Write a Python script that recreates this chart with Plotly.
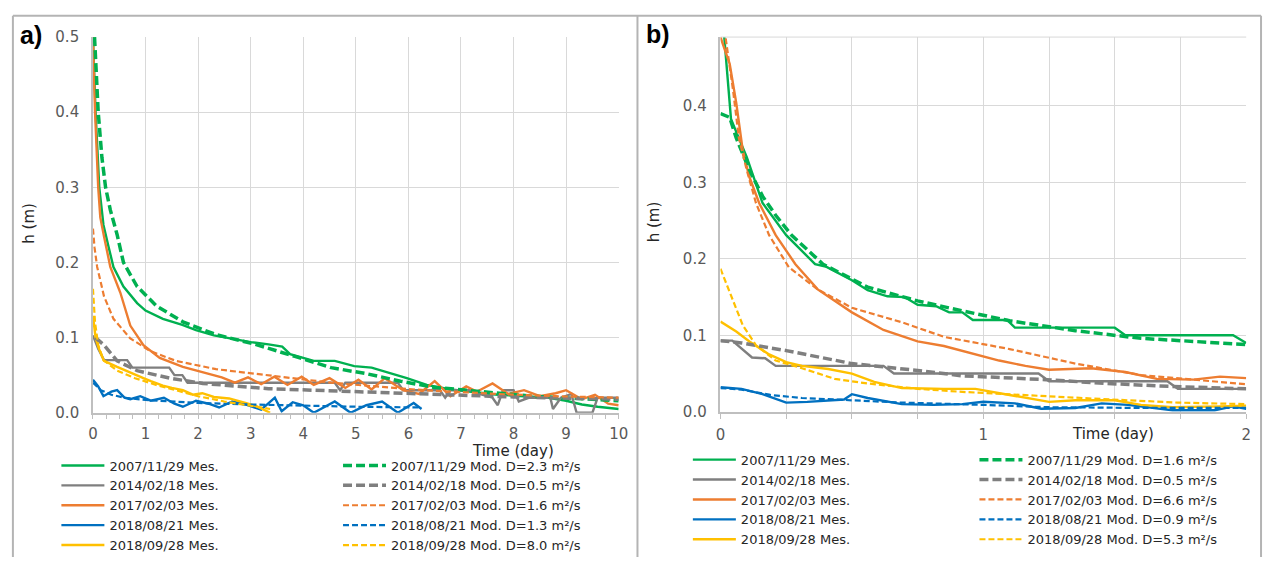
import plotly.graph_objects as go

W, H = 1274, 566

# ---------------- Panel a) data (Time in days, h in m) ----------------
a_green_mes_t = [0, 0.05, 0.12, 0.2, 0.3, 0.39, 0.58, 0.84, 1.0, 1.33, 1.7, 1.96, 2.3, 2.59, 3.0, 3.34, 3.6, 3.75, 4.2, 4.6, 4.97, 5.3, 5.6, 5.97, 6.35, 6.8, 7.2, 7.7, 8.2, 8.67, 9.0, 9.3, 9.6, 10.0]
a_green_mes_h = [0.5, 0.4, 0.3, 0.25, 0.22, 0.194, 0.168, 0.146, 0.136, 0.125, 0.117, 0.11, 0.103, 0.099, 0.094, 0.091, 0.088, 0.078, 0.069, 0.069, 0.062, 0.06, 0.054, 0.046, 0.037, 0.031, 0.028, 0.024, 0.022, 0.02, 0.016, 0.011, 0.008, 0.005]

a_green_mod_t = [0.03, 0.1, 0.17, 0.24, 0.33, 0.46, 0.58, 0.84, 1.21, 1.71, 2.34, 3.09, 3.84, 4.53, 5.2, 5.85, 6.47, 7.1, 7.7, 8.35, 9.2, 10.0]
a_green_mod_h = [0.5, 0.4, 0.34, 0.3, 0.27, 0.237, 0.2, 0.168, 0.142, 0.121, 0.104, 0.091, 0.075, 0.06, 0.052, 0.042, 0.034, 0.03, 0.026, 0.022, 0.019, 0.016]

a_gray_mes_t = [0, 0.1, 0.21, 0.65, 0.75, 1.45, 1.55, 1.7, 1.8, 4.6, 4.7, 4.8, 5.8, 5.9, 6.6, 6.7, 6.8, 7.2, 7.35, 7.6, 7.7, 7.8, 8.0, 8.1, 8.3, 8.7, 8.75, 8.9, 9.1, 9.2, 9.5, 9.6, 10.0]
a_gray_mes_h = [0.103, 0.085, 0.07, 0.07, 0.06, 0.06, 0.05, 0.05, 0.04, 0.04, 0.03, 0.04, 0.04, 0.03, 0.03, 0.02, 0.03, 0.03, 0.025, 0.02, 0.01, 0.03, 0.03, 0.015, 0.02, 0.02, 0.005, 0.02, 0.025, 0.0, 0.0, 0.02, 0.02]

a_gray_mod_t = [0.05, 0.21, 0.46, 0.84, 1.46, 2.09, 3.34, 4.53, 6.0, 8.0, 10.0]
a_gray_mod_h = [0.1, 0.09, 0.069, 0.056, 0.046, 0.039, 0.032, 0.029, 0.025, 0.021, 0.018]

a_orange_mes_t = [0, 0.04, 0.1, 0.14, 0.21, 0.33, 0.52, 0.71, 0.96, 1.27, 1.71, 2.2, 2.45, 2.7, 2.95, 3.2, 3.45, 3.7, 3.97, 4.2, 4.5, 4.8, 5.05, 5.3, 5.55, 5.9, 6.2, 6.5, 6.8, 7.1, 7.3, 7.6, 7.9, 8.2, 8.5, 8.8, 9.0, 9.3, 9.55, 9.8, 10.0]
a_orange_mes_h = [0.5, 0.4, 0.3, 0.26, 0.235, 0.194, 0.16, 0.116, 0.09, 0.073, 0.061, 0.052, 0.047, 0.04, 0.047, 0.038, 0.048, 0.037, 0.048, 0.037, 0.046, 0.033, 0.044, 0.031, 0.046, 0.03, 0.025, 0.042, 0.022, 0.035, 0.028, 0.039, 0.025, 0.03, 0.022, 0.026, 0.03, 0.018, 0.024, 0.012, 0.01]

a_orange_mod_t = [0, 0.03, 0.08, 0.21, 0.39, 0.71, 1.09, 1.58, 2.34, 3.34, 4.53, 5.2, 6.3, 7.7, 8.8, 10.0]
a_orange_mod_h = [0.245, 0.22, 0.194, 0.155, 0.125, 0.099, 0.082, 0.069, 0.058, 0.05, 0.04, 0.036, 0.03, 0.025, 0.022, 0.02]

a_blue_mes_t = [0, 0.1, 0.2, 0.35, 0.46, 0.6, 0.71, 0.9, 1.1, 1.35, 1.55, 1.71, 1.96, 2.2, 2.4, 2.65, 2.9, 3.2, 3.46, 3.59, 3.8, 4.0, 4.2, 4.6, 4.9, 5.2, 5.5, 5.8, 6.1, 6.25]
a_blue_mes_h = [0.044, 0.035, 0.022, 0.028, 0.03, 0.02, 0.018, 0.022, 0.016, 0.02, 0.012, 0.008, 0.016, 0.012, 0.007, 0.015, 0.011, 0.004, 0.02, 0.002, 0.014, 0.01, 0.0, 0.015, 0.0, 0.01, 0.015, 0.0, 0.013, 0.005]

a_blue_mod_t = [0, 0.15, 0.35, 0.6, 1.0, 1.5, 2.0, 3.0, 4.0, 5.0, 6.25]
a_blue_mod_h = [0.04, 0.03, 0.024, 0.02, 0.017, 0.015, 0.013, 0.011, 0.009, 0.008, 0.007]

a_yellow_mes_t = [0, 0.05, 0.11, 0.21, 0.46, 0.71, 0.96, 1.1, 1.33, 1.5, 1.71, 1.9, 2.08, 2.3, 2.59, 2.9, 3.1, 3.37]
a_yellow_mes_h = [0.129, 0.1, 0.086, 0.069, 0.061, 0.053, 0.046, 0.042, 0.036, 0.033, 0.03, 0.024, 0.026, 0.021, 0.019, 0.013, 0.009, 0.0]

a_yellow_mod_t = [0, 0.04, 0.1, 0.2, 0.46, 0.8, 1.2, 1.6, 2.0, 2.5, 3.0, 3.37]
a_yellow_mod_h = [0.165, 0.12, 0.09, 0.07, 0.056, 0.046, 0.037, 0.029, 0.022, 0.015, 0.009, 0.005]

# ---------------- Panel b) data ----------------
b_green_mes_t = [0.012, 0.04, 0.06, 0.1, 0.16, 0.25, 0.36, 0.4, 0.5, 0.56, 0.635, 0.7, 0.75, 0.82, 0.87, 0.92, 0.96, 1.09, 1.12, 1.5, 1.54, 1.95, 2.0]
b_green_mes_h = [0.5, 0.383, 0.366, 0.333, 0.273, 0.231, 0.193, 0.19, 0.172, 0.159, 0.151, 0.15, 0.14, 0.138, 0.13, 0.13, 0.12, 0.12, 0.11, 0.11, 0.1, 0.1, 0.09]

b_green_mod_t = [0, 0.035, 0.06, 0.11, 0.16, 0.21, 0.27, 0.39, 0.56, 0.75, 0.92, 1.1, 1.35, 1.6, 2.0]
b_green_mod_h = [0.39, 0.385, 0.358, 0.316, 0.282, 0.257, 0.231, 0.193, 0.163, 0.145, 0.132, 0.119, 0.106, 0.096, 0.088]

b_gray_mes_t = [0, 0.045, 0.12, 0.17, 0.21, 0.62, 0.66, 1.21, 1.25, 1.7, 1.74, 2.0]
b_gray_mes_h = [0.093, 0.093, 0.071, 0.07, 0.06, 0.06, 0.05, 0.05, 0.04, 0.04, 0.03, 0.03]

b_gray_mod_t = [0, 0.08, 0.25, 0.5, 0.75, 0.92, 1.24, 1.47, 1.72, 2.0]
b_gray_mod_h = [0.093, 0.09, 0.08, 0.063, 0.054, 0.047, 0.042, 0.037, 0.033, 0.03]

b_orange_mes_t = [0, 0.035, 0.06, 0.085, 0.11, 0.147, 0.21, 0.285, 0.37, 0.5, 0.62, 0.75, 0.85, 0.97, 1.06, 1.16, 1.25, 1.41, 1.54, 1.66, 1.8, 1.9, 2.0]
b_orange_mes_h = [0.49, 0.455, 0.404, 0.341, 0.307, 0.273, 0.231, 0.193, 0.16, 0.13, 0.107, 0.092, 0.086, 0.075, 0.067, 0.06, 0.055, 0.057, 0.052, 0.043, 0.042, 0.046, 0.044]

b_orange_mod_t = [0.015, 0.048, 0.07, 0.1, 0.135, 0.185, 0.26, 0.37, 0.5, 0.69, 0.85, 1.1, 1.35, 1.6, 2.0]
b_orange_mod_h = [0.5, 0.42, 0.358, 0.316, 0.273, 0.231, 0.189, 0.16, 0.136, 0.117, 0.098, 0.082, 0.063, 0.048, 0.036]

b_blue_mes_t = [0, 0.08, 0.16, 0.25, 0.33, 0.43, 0.47, 0.5, 0.56, 0.69, 0.81, 0.92, 1.0, 1.12, 1.22, 1.35, 1.45, 1.55, 1.72, 1.88, 1.95, 2.0]
b_blue_mes_h = [0.032, 0.03, 0.023, 0.012, 0.013, 0.015, 0.016, 0.023, 0.018, 0.01, 0.009, 0.01, 0.013, 0.011, 0.004, 0.005, 0.011, 0.009, 0.002, 0.002, 0.007, 0.004]

b_blue_mod_t = [0, 0.08, 0.19, 0.31, 0.5, 0.69, 1.0, 1.24, 1.6, 2.0]
b_blue_mod_h = [0.031, 0.029, 0.022, 0.018, 0.015, 0.012, 0.009, 0.006, 0.005, 0.005]

b_yellow_mes_t = [0, 0.06, 0.11, 0.185, 0.25, 0.31, 0.41, 0.5, 0.585, 0.69, 0.85, 0.97, 1.1, 1.25, 1.35, 1.5, 1.6, 1.72, 1.9, 2.0]
b_yellow_mes_h = [0.118, 0.105, 0.092, 0.075, 0.065, 0.06, 0.056, 0.05, 0.039, 0.031, 0.03, 0.03, 0.022, 0.013, 0.015, 0.015, 0.009, 0.006, 0.007, 0.008]

b_yellow_mod_t = [0, 0.045, 0.085, 0.135, 0.21, 0.31, 0.435, 0.56, 0.75, 0.92, 1.24, 1.49, 1.74, 2.0]
b_yellow_mod_h = [0.187, 0.147, 0.113, 0.087, 0.067, 0.057, 0.043, 0.037, 0.03, 0.026, 0.02, 0.016, 0.012, 0.01]

# ---------------- labels ----------------
dates = ["2007/11/29", "2014/02/18", "2017/02/03", "2018/08/21", "2018/09/28"]
a_D = ["2.3", "0.5", "1.6", "1.3", "8.0"]
b_D = ["1.6", "0.5", "6.6", "0.9", "5.3"]
colors = ["#00B050", "#7F7F7F", "#ED7D31", "#0070C0", "#FFC000"]
a_xticks = [0, 1, 2, 3, 4, 5, 6, 7, 8, 9, 10]
b_xticks = [0, 1, 2]
yticks = [0.0, 0.1, 0.2, 0.3, 0.4, 0.5]

a_mes = [(a_green_mes_t, a_green_mes_h), (a_gray_mes_t, a_gray_mes_h), (a_orange_mes_t, a_orange_mes_h),
         (a_blue_mes_t, a_blue_mes_h), (a_yellow_mes_t, a_yellow_mes_h)]
a_mod = [(a_green_mod_t, a_green_mod_h), (a_gray_mod_t, a_gray_mod_h), (a_orange_mod_t, a_orange_mod_h),
         (a_blue_mod_t, a_blue_mod_h), (a_yellow_mod_t, a_yellow_mod_h)]
b_mes = [(b_green_mes_t, b_green_mes_h), (b_gray_mes_t, b_gray_mes_h), (b_orange_mes_t, b_orange_mes_h),
         (b_blue_mes_t, b_blue_mes_h), (b_yellow_mes_t, b_yellow_mes_h)]
b_mod = [(b_green_mod_t, b_green_mod_h), (b_gray_mod_t, b_gray_mod_h), (b_orange_mod_t, b_orange_mod_h),
         (b_blue_mod_t, b_blue_mod_h), (b_yellow_mod_t, b_yellow_mod_h)]

def px(x):
    return x / W

def py(y):
    return 1 - y / H

fig = go.Figure()

def mod_line(i):
    if i < 2:
        return dict(color=colors[i], width=3.5, dash="9px,4px")
    return dict(color=colors[i], width=2.2, dash="6px,3px")

for i in range(5):
    fig.add_trace(go.Scatter(x=a_mes[i][0], y=a_mes[i][1], mode="lines", xaxis="x", yaxis="y",
                             line=dict(color=colors[i], width=2.4), name=f"{dates[i]} Mes.",
                             legend="legend", legendgroup=f"am{i}"))
for i in range(5):
    fig.add_trace(go.Scatter(x=a_mod[i][0], y=a_mod[i][1], mode="lines", xaxis="x", yaxis="y",
                             line=mod_line(i), name=f"{dates[i]} Mod. D={a_D[i]} m²/s",
                             legend="legend2", legendgroup=f"ad{i}"))
for i in range(5):
    fig.add_trace(go.Scatter(x=b_mes[i][0], y=b_mes[i][1], mode="lines", xaxis="x2", yaxis="y2",
                             line=dict(color=colors[i], width=2.4), name=f"{dates[i]} Mes.",
                             legend="legend3", legendgroup=f"bm{i}"))
for i in range(5):
    fig.add_trace(go.Scatter(x=b_mod[i][0], y=b_mod[i][1], mode="lines", xaxis="x2", yaxis="y2",
                             line=mod_line(i), name=f"{dates[i]} Mod. D={b_D[i]} m²/s",
                             legend="legend4", legendgroup=f"bd{i}"))

GRID = "#D9D9D9"
AXL = "#BFBFBF"
TICKFONT = dict(family="DejaVu Sans", size=15, color="#595959")
LEGFONT = dict(family="DejaVu Sans", size=13, color="#262626")

def legend_cfg(x, y, gap):
    return dict(x=px(x), y=py(y), xanchor="left", yanchor="top", orientation="v",
                font=LEGFONT, bgcolor="rgba(0,0,0,0)", borderwidth=0,
                tracegroupgap=gap, itemwidth=43, traceorder="grouped")

fig.update_layout(
    width=W, height=H, margin=dict(l=0, r=0, t=0, b=0),
    paper_bgcolor="white", plot_bgcolor="white", showlegend=True,
    xaxis=dict(domain=[px(89), px(621)], range=[0, 10], tickvals=a_xticks,
               showgrid=True, gridcolor=GRID, gridwidth=1, zeroline=False,
               showline=True, linecolor=AXL, linewidth=1.5,
               ticks="outside", ticklen=5, tickcolor=AXL, tickfont=TICKFONT,
               ticklabelstandoff=2,
               minor=dict(dtick=0.25, ticks="outside", ticklen=5, tickcolor=AXL, showgrid=False),
               anchor="y"),
    yaxis=dict(domain=[py(417), py(29)], range=[0, 0.5], tickvals=yticks, tickformat=".1f",
               showgrid=True, gridcolor=GRID, gridwidth=1, zeroline=False,
               showline=True, linecolor=AXL, linewidth=1.5, ticks="",
               tickfont=TICKFONT, ticklabelstandoff=9, anchor="x"),
    xaxis2=dict(domain=[px(724), px(1256)], range=[0, 2], tickvals=b_xticks,
                showgrid=True, gridcolor=GRID, gridwidth=1, zeroline=False,
                showline=True, linecolor=AXL, linewidth=1.5,
                ticks="outside", ticklen=5, tickcolor=AXL, tickfont=TICKFONT,
                ticklabelstandoff=3,
                minor=dict(dtick=0.25, ticks="outside", ticklen=5, tickcolor=AXL,
                           showgrid=True, gridcolor=GRID, gridwidth=1),
                anchor="y2"),
    yaxis2=dict(domain=[py(416), py(29)], range=[0, 0.49], tickvals=yticks[:5], tickformat=".1f",
                showgrid=True, gridcolor=GRID, gridwidth=1, zeroline=False,
                showline=True, linecolor=AXL, linewidth=1.5, ticks="",
                tickfont=TICKFONT, ticklabelstandoff=9, anchor="x2"),
    legend=legend_cfg(52, 456, 0),
    legend2=legend_cfg(337, 456, 0),
    legend3=legend_cfg(691, 450, 0),
    legend4=legend_cfg(981, 450, 0),
)

# top border of right plot area
fig.add_shape(type="line", xref="paper", yref="paper", x0=px(724), x1=px(1256), y0=py(29), y1=py(29),
              line=dict(color=GRID, width=1))

# panel frames
FRAME = "#B4B4B4"
for (x0, y0, x1, y1) in [(8, 7, 1271, 7), (8, 7, 8, 566), (640, 7, 640, 566), (1271, 7, 1271, 566)]:
    fig.add_shape(type="line", xref="paper", yref="paper", x0=px(x0), x1=px(x1), y0=py(y0), y1=py(y1),
                  line=dict(color=FRAME, width=2))

ann = []
ann.append(dict(text="<b>a)</b>", x=px(26), y=py(27), font=dict(family="Liberation Sans", size=25, color="black")))
ann.append(dict(text="<b>b)</b>", x=px(661), y=py(26), font=dict(family="Liberation Sans", size=25, color="black")))
ann.append(dict(text="h (m)", x=px(24), y=py(221), textangle=-90, font=dict(family="DejaVu Sans", size=15, color="#262626")))
ann.append(dict(text="h (m)", x=px(657), y=py(220), textangle=-90, font=dict(family="DejaVu Sans", size=15, color="#262626")))
ann.append(dict(text="Time (day)", x=px(514), y=py(457), font=dict(family="DejaVu Sans", size=15, color="#262626")))
ann.append(dict(text="Time (day)", x=px(1121), y=py(439), font=dict(family="DejaVu Sans", size=15, color="#262626")))
for a in ann:
    a.update(xref="paper", yref="paper", showarrow=False, xanchor="center", yanchor="middle")
    fig.add_annotation(**a)

POST = ("document.documentElement.style.margin='0';document.documentElement.style.padding='0';"
        "document.documentElement.style.overflow='hidden';"
        "document.body.style.margin='0';document.body.style.padding='0';document.body.style.overflow='hidden';"
        "var d=document.getElementById('{plot_id}');d.style.position='fixed';d.style.left='0px';d.style.top='0px';")

fig.write_html("out.html", config={"displayModeBar": False}, post_script=POST)
